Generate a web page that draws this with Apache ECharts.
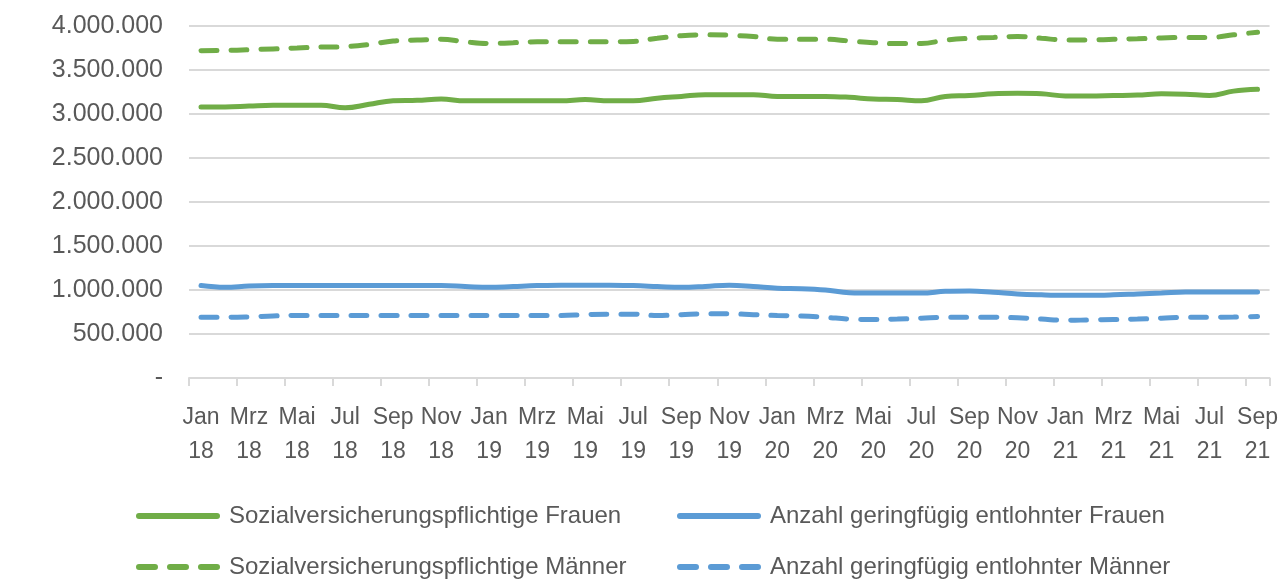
<!DOCTYPE html>
<html>
<head>
<meta charset="utf-8">
<script src="https://cdn.jsdelivr.net/npm/echarts@6/dist/echarts.min.js"></script>
<style>
  html, body { margin: 0; padding: 0; background: #fff; }
  #chart { width: 1281px; height: 585px; }
</style>
</head>
<body>
<div id="chart"></div>
<script>
const monthNames = ["Jan", "Feb", "Mrz", "Apr", "Mai", "Jun", "Jul", "Aug", "Sep", "Okt", "Nov", "Dez"];
const years = ["18", "19", "20", "21"];

// Jan 18 .. Sep 21 (45 Monate)
const months = [];
years.forEach((y, yi) => {
  monthNames.forEach((m, mi) => {
    if (yi < 3 || mi <= 8) months.push(m + "\n" + y);
  });
});

const svFrauen = [
  3080000, 3080000, 3090000, 3100000, 3100000, 3100000, 3070000, 3110000, 3150000, 3155000, 3170000, 3150000,
  3150000, 3150000, 3150000, 3150000, 3165000, 3150000, 3150000, 3180000, 3200000, 3220000, 3220000, 3220000,
  3200000, 3200000, 3200000, 3190000, 3170000, 3165000, 3150000, 3200000, 3210000, 3230000, 3235000, 3230000,
  3205000, 3205000, 3210000, 3215000, 3230000, 3225000, 3210000, 3260000, 3280000
];
const svMaenner = [
  3720000, 3722000, 3730000, 3740000, 3750000, 3760000, 3765000, 3790000, 3830000, 3840000, 3850000, 3820000,
  3800000, 3810000, 3820000, 3820000, 3820000, 3820000, 3825000, 3860000, 3890000, 3900000, 3895000, 3880000,
  3850000, 3850000, 3850000, 3830000, 3810000, 3800000, 3800000, 3840000, 3860000, 3870000, 3880000, 3860000,
  3840000, 3840000, 3850000, 3855000, 3865000, 3870000, 3870000, 3900000, 3930000
];
const gfFrauen = [
  1050000, 1030000, 1045000, 1050000, 1050000, 1050000, 1050000, 1050000, 1050000, 1050000, 1050000, 1040000,
  1030000, 1040000, 1050000, 1055000, 1055000, 1055000, 1050000, 1040000, 1030000, 1040000, 1055000, 1040000,
  1020000, 1015000, 1000000, 970000, 965000, 965000, 965000, 985000, 990000, 975000, 955000, 945000,
  940000, 940000, 945000, 955000, 965000, 978000, 978000, 978000, 978000
];
const gfMaenner = [
  690000, 690000, 695000, 705000, 710000, 710000, 710000, 710000, 710000, 710000, 710000, 710000,
  710000, 710000, 710000, 710000, 720000, 725000, 725000, 710000, 720000, 730000, 730000, 720000,
  710000, 705000, 690000, 670000, 665000, 670000, 680000, 690000, 690000, 690000, 685000, 670000,
  655000, 660000, 665000, 670000, 680000, 690000, 690000, 692000, 700000
];

const names = [
  "Sozialversicherungspflichtige Frauen",
  "Sozialversicherungspflichtige Männer",
  "Anzahl geringfügig entlohnter Frauen",
  "Anzahl geringfügig entlohnter Männer"
];
const green = "#70AD47";
const blue = "#5B9BD5";
const dash = [16, 14];
const fontFamily = "Liberation Sans, Arial, sans-serif";
const textColor = "#595959";
const gridColor = "#d9d9d9";

// Legend-Symbole: eine durchgehende Linie bzw. drei Striche, mit runden Enden
function pill(x0, x1) {
  return "M" + (x0 + 3) + ",0H" + (x1 - 3) + "A3,3 0 0 1 " + (x1 - 3) + ",6H" + (x0 + 3) + "A3,3 0 0 1 " + (x0 + 3) + ",0Z";
}
const iconSolid = "path://" + pill(0, 84);
const iconDashed = "path://" + pill(0, 22) + pill(31, 53) + pill(62, 84);

function fmt(v) {
  if (v === 0) return "-";
  return String(v).replace(/\B(?=(\d{3})+(?!\d))/g, ".");
}

function mkSeries(name, data, color, dashed) {
  return {
    name: name,
    type: "line",
    data: data,
    smooth: 0.4,
    symbol: "none",
    lineStyle: { color: color, width: 5, type: dashed ? dash : "solid", cap: "round" },
    itemStyle: { color: color }
  };
}

function mkLegend(name, color, dashed, left, top) {
  return {
    data: [{ name: name, icon: dashed ? iconDashed : iconSolid, itemStyle: { color: color } }],
    left: left,
    top: top,
    itemWidth: 84,
    itemHeight: 6,
    itemGap: 0,
    padding: 0,
    selectedMode: false,
    textStyle: { fontFamily: fontFamily, fontSize: 24, color: textColor, padding: [0, 0, 0, 4] }
  };
}

const chart = echarts.init(document.getElementById("chart"));
chart.setOption({
  animation: false,
  grid: { left: 189, right: 10, top: 26, bottom: 207, containLabel: false },
  legend: [
    mkLegend(names[0], green, false, 136, 504),
    mkLegend(names[2], blue, false, 677, 504),
    mkLegend(names[1], green, true, 136, 555),
    mkLegend(names[3], blue, true, 677, 555)
  ],
  xAxis: {
    type: "category",
    data: months,
    boundaryGap: true,
    axisLine: { show: true, lineStyle: { color: gridColor, width: 2 } },
    axisTick: {
      show: true,
      interval: (idx) => idx % 2 === 0,
      length: 8,
      lineStyle: { color: gridColor, width: 2 }
    },
    axisLabel: {
      interval: 1,
      margin: 23,
      color: textColor,
      fontFamily: fontFamily,
      fontSize: 23,
      lineHeight: 34
    }
  },
  yAxis: {
    type: "value",
    min: 0,
    max: 4000000,
    interval: 500000,
    axisLine: { show: false },
    axisTick: { show: false },
    splitLine: { lineStyle: { color: gridColor, width: 2 } },
    axisLabel: {
      margin: 26,
      color: textColor,
      fontFamily: fontFamily,
      fontSize: 25,
      formatter: fmt
    }
  },
  series: [
    mkSeries(names[0], svFrauen, green, false),
    mkSeries(names[1], svMaenner, green, true),
    mkSeries(names[2], gfFrauen, blue, false),
    mkSeries(names[3], gfMaenner, blue, true)
  ]
});
</script>
</body>
</html>
